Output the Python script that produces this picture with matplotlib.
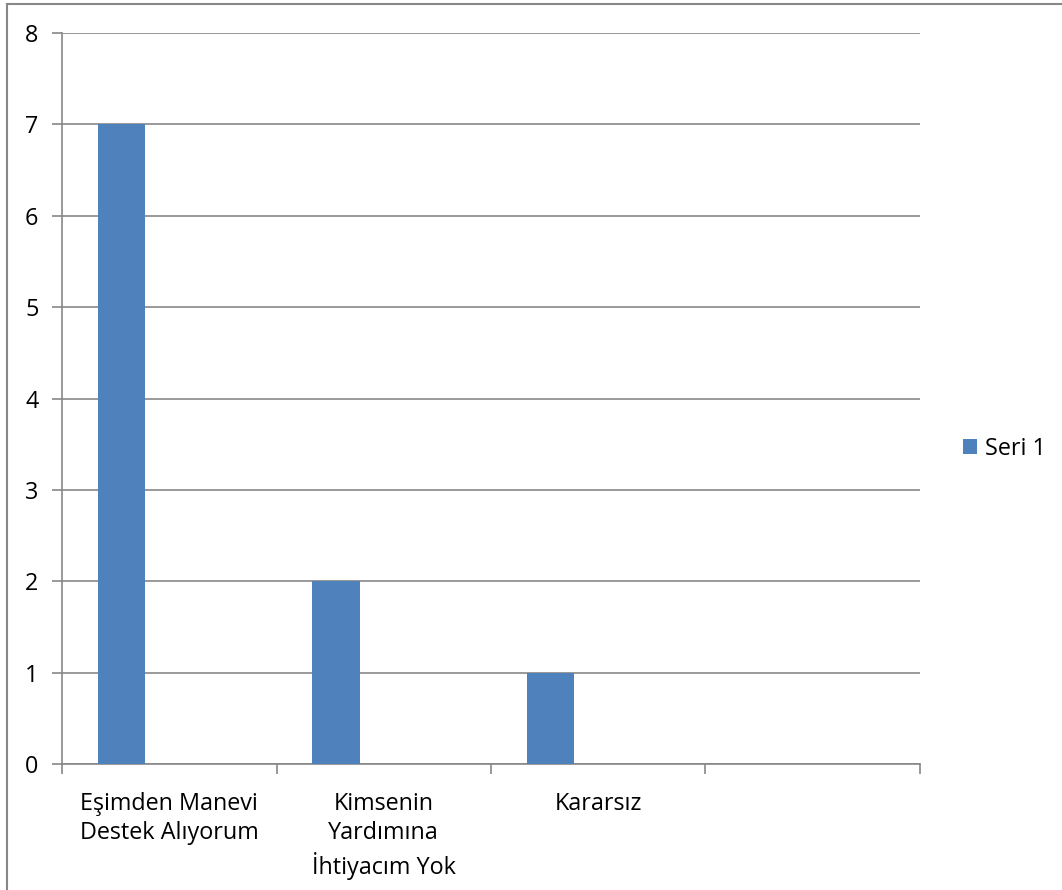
import numpy as np
import matplotlib.pyplot as plt
from matplotlib.lines import Line2D

categories = ["Eşimden Manevi\nDestek Alıyorum", "Kimsenin\nYardımına\nİhtiyacım Yok", "Kararsız", ""]
seri1 = [7, 2, 1, 0]
yticks = [0, 1, 2, 3, 4, 5, 6, 7, 8]

plt.rcParams['font.family'] = ['Open Sans', 'DejaVu Sans']

fig = plt.figure(figsize=(10.62, 8.9), dpi=100)
ax = fig.add_axes([62/1062, 1 - 764/890, (920-62)/1062, (764-33)/890])

# outer chart border (only left and top visible)
bx, by = 6.5/1062, 1 - 3.5/890
fig.lines.append(Line2D([bx, bx], [0, by], transform=fig.transFigure, color='#878787', linewidth=1.5))
fig.lines.append(Line2D([bx, 1], [by, by], transform=fig.transFigure, color='#878787', linewidth=1.5))

nser = 3
gap = 1.5
w = 1 / (nser + gap)
x = np.arange(len(categories))
ax.bar(x + gap / 2 * w, seri1, width=w, align='edge', color='#4F81BD', label='Seri 1', zorder=3)

ax.set_xlim(0, len(categories))
ax.set_ylim(0, 8)
ax.set_yticks(yticks)
ax.set_xticks(np.arange(len(categories) + 1))
ax.set_xticklabels([])
ax.set_xticks(x + 0.5, minor=True)
ax.set_xticklabels(categories, minor=True, fontsize=16.8, linespacing=1.3, va='top')
ax.tick_params(axis='x', which='minor', length=0, pad=20)
ax.tick_params(axis='x', which='major', length=7, color='#878787', width=1.2)
ax.tick_params(axis='y', length=7, color='#878787', width=1.2, labelsize=16.8, pad=10)

ax.grid(axis='y', color='#878787', linewidth=1.2, zorder=0)
for s in ['top', 'right']:
    ax.spines[s].set_visible(False)
for s in ['left', 'bottom']:
    ax.spines[s].set_color('#878787')
    ax.spines[s].set_linewidth(1.2)

ax.legend(loc='center left', bbox_to_anchor=(947/1062, 1 - 449/890), bbox_transform=fig.transFigure,
          frameon=False, fontsize=16.8, handlelength=0.6, handleheight=0.6, handletextpad=0.35,
          borderpad=0.2)

fig.savefig('out.png', dpi=100)
